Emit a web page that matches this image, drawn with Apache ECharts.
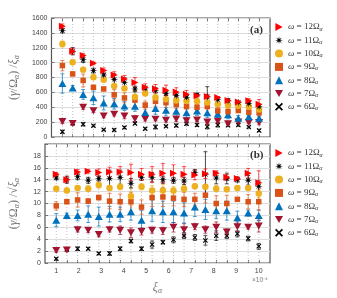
<!DOCTYPE html>
<html><head><meta charset="utf-8">
<script src="https://cdn.jsdelivr.net/npm/echarts@6/dist/echarts.min.js"></script>
<style>html,body{margin:0;padding:0;background:#fff}#c{width:337px;height:298px}</style>
</head><body><div id="c"></div>
<script>
const xs = [1.00,1.47,1.95,2.42,2.89,3.37,3.84,4.32,4.79,5.26,5.74,6.21,6.68,7.16,7.63,8.11,8.58,9.05,9.53,10.00];
const xTickLabels = [1,2,3,4,5,6,7,8,9,10];
const topTicks = [0,200,400,600,800,1000,1200,1400,1600];
const botTicks = [0,2,4,6,8,10,12,14,16,18];
const omegaNames = ['12','11','10','9','8','7','6'];

const top12 = [1490,1153,1096,990,893,834,781,732,670,649,630,606,576,553,543,530,492,472,489,440];
const top12Err = [30,41,29,19,35,44,46,67,46,57,67,56,50,30,29,14,17,10,26,63];
const bot12 = [14.9,14.0,15.3,15.4,15.2,15.3,15.3,15.2,14.9,14.9,15.1,15.1,14.9,14.8,15.0,15.1,14.4,14.2,15.1,13.5];
const bot12Err = [0.3,0.5,0.4,0.3,0.6,0.8,0.9,1.4,1.0,1.3,1.6,1.4,1.3,0.8,0.8,0.4,0.5,0.3,0.8,2.0];

const top11 = [1430,1153,1039,893,835,774,735,645,658,628,585,558,534,568,539,502,485,465,450,408];
const top11Err = [30,49,36,32,24,76,61,38,23,35,25,20,23,19,138,35,31,13,26,28];
const bot11 = [14.3,14.0,14.5,13.9,14.2,14.2,14.4,13.4,14.4,14.4,14.0,13.9,13.8,15.2,14.9,14.3,14.2,14.0,13.9,12.9];
const bot11Err = [0.3,0.6,0.5,0.5,0.4,1.4,1.2,0.8,0.5,0.8,0.6,0.5,0.6,0.5,3.8,1.0,0.9,0.4,0.8,0.9];

const top10 = [1250,1005,903,803,770,687,653,539,585,532,509,490,484,482,463,439,423,419,408,370];
const top10Err = [40,33,22,32,29,22,26,72,23,35,42,24,19,15,14,18,14,13,13,22];
const bot10 = [12.5,12.2,12.6,12.5,13.1,12.6,12.8,11.2,12.8,12.2,12.2,12.2,12.5,12.9,12.8,12.5,12.4,12.6,12.6,11.7];
const bot10Err = [0.4,0.4,0.3,0.5,0.5,0.4,0.5,1.5,0.5,0.8,1.0,0.6,0.5,0.4,0.4,0.5,0.4,0.4,0.4,0.7];

const top9 = [960,848,760,668,646,567,526,496,429,479,463,437,414,400,413,351,341,356,334,326];
const top9Err = [70,25,86,26,24,71,66,77,55,65,67,52,46,37,47,46,48,10,39,44];
const bot9 = [9.6,10.3,10.6,10.4,11.0,10.4,10.3,10.3,9.4,11.0,11.1,10.9,10.7,10.7,11.4,10.0,10.0,10.7,10.3,10.3];
const bot9Err = [0.7,0.3,1.2,0.4,0.4,1.3,1.3,1.6,1.2,1.5,1.6,1.3,1.2,1.0,1.3,1.3,1.4,0.3,1.2,1.4];

const top8 = [720,659,573,527,458,447,418,414,329,384,359,345,325,351,326,309,300,253,272,253];
const top8Err = [130,33,65,90,94,71,61,67,73,78,75,72,66,60,62,46,55,37,16,28];
const bot8 = [7.2,8.0,8.0,8.2,7.8,8.2,8.2,8.6,7.2,8.8,8.6,8.6,8.4,9.4,9.0,8.8,8.8,7.6,8.4,8.0];
const bot8Err = [1.1,0.4,0.9,1.4,1.6,1.3,1.2,1.4,1.6,1.8,1.8,1.8,1.7,1.6,1.7,1.3,1.6,1.1,0.5,0.9];

const top7 = [210,181,401,353,282,305,281,245,242,240,225,241,217,228,203,211,178,203,194,196];
const top7Err = [30,25,29,26,24,22,36,38,27,22,25,32,39,19,22,32,17,27,10,32];
const bot7 = [2.1,2.2,5.6,5.5,4.8,5.6,5.5,5.1,5.3,5.5,5.4,6.0,5.6,6.1,5.6,6.0,5.2,6.1,6.0,6.2];
const bot7Err = [0.3,0.3,0.4,0.4,0.4,0.4,0.7,0.8,0.6,0.5,0.6,0.8,1.0,0.5,0.6,0.9,0.5,0.8,0.3,1.0];

const top6 = [70,189,171,150,97,95,128,183,111,135,145,155,178,161,138,162,157,163,133,89];
const top6Err = [20,25,22,13,12,16,15,14,14,26,13,20,19,19,29,28,17,17,13,16];
const bot6 = [0.7,2.3,2.4,2.4,1.6,1.6,2.4,3.7,2.4,3.1,3.5,3.9,4.6,4.3,3.8,4.6,4.6,4.9,4.1,2.8];
const bot6Err = [0.2,0.3,0.3,0.2,0.2,0.3,0.3,0.3,0.3,0.6,0.3,0.5,0.5,0.5,0.8,0.8,0.5,0.5,0.4,0.5];

// star (asterisk-like) symbol path
function starPath(n, ro, ri){
  let d = '';
  for (let k = 0; k < 2*n; k++){
    const r = k % 2 === 0 ? ro : ri;
    const a = Math.PI * k / n - Math.PI/2;
    d += (k === 0 ? 'M' : 'L') + (10 + r*Math.cos(a)).toFixed(2) + ',' + (10 + r*Math.sin(a)).toFixed(2);
  }
  return 'path://' + d + 'Z';
}

const styles = {
  '12': {color:'#FF0000', symbol:'path://M0,0L9,5L0,10Z', size:[7,7]},
  '11': {color:'#000000', symbol:starPath(8,10,3.2), size:8},
  '10': {color:'#EDB120', symbol:'circle', size:6.5},
  '9':  {color:'#D95319', symbol:'rect', size:5.5},
  '8':  {color:'#0072BD', symbol:'triangle', size:[8,7]},
  '7':  {color:'#A2142F', symbol:'path://M0,0L10,0L5,9Z', size:[8,7]},
  '6':  {color:'#000000', symbol:'path://M0,1.5L1.5,0L5,3.5L8.5,0L10,1.5L6.5,5L10,8.5L8.5,10L5,6.5L1.5,10L0,8.5L3.5,5Z', size:5}
};
const dataSets = {
  '12':[top12,top12Err,bot12,bot12Err],
  '11':[top11,top11Err,bot11,bot11Err],
  '10':[top10,top10Err,bot10,bot10Err],
  '9':[top9,top9Err,bot9,bot9Err],
  '8':[top8,top8Err,bot8,bot8Err],
  '7':[top7,top7Err,bot7,bot7Err],
  '6':[top6,top6Err,bot6,bot6Err]
};

const serif = 'Liberation Serif';
const sans = 'Liberation Sans';

function errRenderer(color){
  return function(params, api){
    const x = api.value(0), lo = api.value(1), hi = api.value(2);
    const p1 = api.coord([x, lo]), p2 = api.coord([x, hi]);
    const cw = 2;
    const st = {stroke: color, lineWidth: 0.8, opacity: 0.85};
    return {type:'group', children:[
      {type:'line', shape:{x1:p1[0],y1:p1[1],x2:p2[0],y2:p2[1]}, style:st},
      {type:'line', shape:{x1:p1[0]-cw,y1:p1[1],x2:p1[0]+cw,y2:p1[1]}, style:st},
      {type:'line', shape:{x1:p2[0]-cw,y1:p2[1],x2:p2[0]+cw,y2:p2[1]}, style:st}
    ]};
  };
}
function vgridRenderer(params, api){
  const cs = params.coordSys;
  const px = api.coord([api.value(0), 0])[0];
  return {type:'line', shape:{x1:px,y1:cs.y,x2:px,y2:cs.y+cs.height},
    style:{stroke:'#b0b0b0', lineWidth:0.8, lineDash:[1,2]}};
}

const series = [];
[0,1].forEach(g => {
  series.push({type:'custom', name:'vg'+g, xAxisIndex:g, yAxisIndex:g, silent:true, z:1,
    renderItem: vgridRenderer, data: xs.map(x=>[x]), encode:{x:0}});
});
const drawOrder = ['6','7','8','9','10','11','12'];
[0,1].forEach(g => {
  drawOrder.forEach(n => {
    const st = styles[n];
    const vals = dataSets[n][g*2], errs = dataSets[n][g*2+1];
    series.push({type:'custom', name:'e'+n+'_'+g, xAxisIndex:g, yAxisIndex:g, silent:true, z:2,
      renderItem: errRenderer(st.color), encode:{x:0, y:[1,2]},
      data: xs.map((x,i)=>[x, vals[i]-errs[i], vals[i]+errs[i]])});
  });
  drawOrder.forEach(n => {
    const st = styles[n];
    const vals = dataSets[n][g*2];
    series.push({type:'scatter', name:n, xAxisIndex:g, yAxisIndex:g, z:3,
      symbol:st.symbol, symbolSize:st.size, itemStyle:{color:st.color, opacity:1},
      data: xs.map((x,i)=>[x, vals[i]])});
  });
});

const legendText = {
  fontFamily: serif, fontSize: 9, color:'#333', lineHeight: 10,
  rich: {
    i:{fontFamily:serif, fontStyle:'italic', fontSize:9, color:'#333', lineHeight:10},
    t:{fontFamily:serif, fontSize:9, color:'#333', lineHeight:10},
    s:{fontFamily:serif, fontStyle:'italic', fontSize:6, color:'#333', lineHeight:10, padding:[4,0,0,0]}
  }
};
function legendFmt(name){ return '{i|ω}{t| = ' + name + 'Ω}{s|α}'; }
function mkLegend(top){
  return {data: omegaNames, orient:'vertical', left:275, top:top, itemWidth:8, itemHeight:8,
    itemGap:3.3, textStyle: legendText, formatter: legendFmt, selectedMode:false, padding:0};
}

const axisLabelStyle = {fontFamily:sans, fontSize:7, color:'#444'};
const nameRich = {
  i:{fontFamily:serif, fontStyle:'italic', fontSize:12, color:'#777'},
  t:{fontFamily:serif, fontSize:12, color:'#777'},
  s:{fontFamily:serif, fontStyle:'italic', fontSize:8, color:'#777', padding:[6,0,0,0]}
};

function xAx(g, showLabels){
  return {gridIndex:g, type:'value', min:0.5, max:10.5,
    axisLine:{show:false}, splitLine:{show:false},
    axisTick:{show:true, inside:true, length:3, customValues: xs, lineStyle:{color:'#555', width:0.8}},
    axisLabel: showLabels ? Object.assign({show:true, customValues:xTickLabels, margin:5}, axisLabelStyle) : {show:false},
    name: showLabels ? '{i|ξ}{s|α}' : '', nameLocation:'middle', nameGap:18,
    nameTextStyle:{rich:nameRich}};
}
function xAxTop(g){
  return {gridIndex:g, type:'value', position:'top', min:0.5, max:10.5,
    axisLine:{show:false}, splitLine:{show:false}, axisLabel:{show:false},
    axisTick:{show:true, inside:true, length:3, customValues: xs, lineStyle:{color:'#555', width:0.8}}};
}

const option = {
  animation:false,
  backgroundColor:'#fff',
  grid:[
    {left:42, right:67, top:18, height:119, show:true, borderColor:'#555', borderWidth:1.2, backgroundColor:'transparent'},
    {left:42, right:67, top:144, height:119, show:true, borderColor:'#555', borderWidth:1.2, backgroundColor:'transparent'}
  ],
  xAxis:[xAx(0,false), xAx(1,true), xAxTop(0), xAxTop(1)],
  yAxis:[
    {gridIndex:0, type:'value', min:0, max:1600, interval:200,
      axisLine:{show:false}, axisTick:{show:true, inside:true, length:3, lineStyle:{color:'#555', width:0.8}},
      splitLine:{show:true, lineStyle:{color:'#dcdcdc', width:1}},
      axisLabel:Object.assign({margin:4, formatter: v => String(v)}, axisLabelStyle),
      name:'{t|(}{i|γ}{t|/Ω}{s|α}{t|) /}{i|ξ}{s|α}', nameLocation:'middle', nameGap:24, nameTextStyle:{rich:nameRich}},
    {gridIndex:1, type:'value', min:0, max:20, interval:2,
      axisLine:{show:false}, axisTick:{show:true, inside:true, length:3, lineStyle:{color:'#555', width:0.8}},
      splitLine:{show:true, lineStyle:{color:'#dcdcdc', width:1}},
      axisLabel:Object.assign({margin:4, formatter: v => v === 20 ? '' : String(v)}, axisLabelStyle),
      name:'{t|(}{i|γ}{t|/Ω}{s|α}{t|) /√}{i|ξ}{s|α}', nameLocation:'middle', nameGap:24, nameTextStyle:{rich:nameRich}}
  ],
  legend:[mkLegend(22), mkLegend(148)],
  graphic:[
    {type:'text', left:250, top:25, z:10, style:{text:'(a)', fontFamily:serif, fontSize:11, fontWeight:'bold', fill:'#333'}},
    {type:'text', left:250, top:150, z:10, style:{text:'(b)', fontFamily:serif, fontSize:11, fontWeight:'bold', fill:'#333'}},
    {type:'text', left:252, top:277, z:10, style:{text:'×10⁻⁴', fontFamily:sans, fontSize:6.5, fill:'#777'}}
  ],
  series: series
};
const chart = echarts.init(document.getElementById('c'), null, {renderer:'canvas'});
chart.setOption(option);
</script></body></html>
